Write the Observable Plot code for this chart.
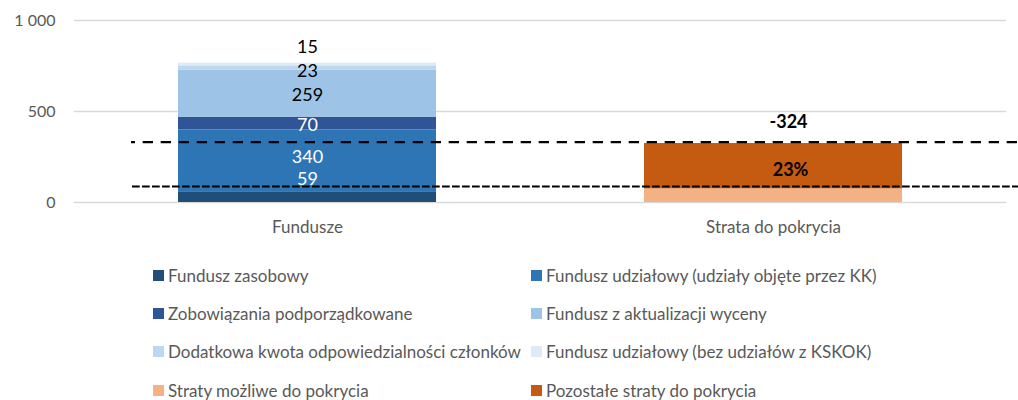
<!DOCTYPE html>
<html>
<head>
<meta charset="utf-8">
<script src="https://cdn.jsdelivr.net/npm/d3@7"></script>
<script src="https://cdn.jsdelivr.net/npm/@observablehq/plot@0.6"></script>
<style>
  body { margin: 0; background: #fff; font-family: Lato, sans-serif; }
  #wrap { position: relative; width: 1018px; height: 400px; }
  #legend { position: absolute; left: 153px; top: 256px; display: grid;
    grid-template-columns: 378px auto; grid-auto-rows: 38.3px; color: #595959; font-size: 17px; }
  .item { display: flex; align-items: center; white-space: nowrap; }
  .sw { width: 11px; height: 11px; margin-right: 4px; flex: none; }
</style>
</head>
<body>
<div id="wrap"><div id="chart"></div><div id="legend"></div></div>
<script>
// ---- data ----
const categories = ["Fundusze", "Strata do pokrycia"];
const fundSeries = [
  "Fundusz zasobowy",
  "Fundusz udziałowy (udziały objęte przez KK)",
  "Zobowiązania podporządkowane",
  "Fundusz z aktualizacji wyceny",
  "Dodatkowa kwota odpowiedzialności członków",
  "Fundusz udziałowy (bez udziałów z KSKOK)"
];
const fundValues = [59, 340, 70, 259, 23, 15];
const lossSeries = ["Straty możliwe do pokrycia", "Pozostałe straty do pokrycia"];
const lossValues = [75, 249];
const lossTotalLabel = "-324";
const coverShareLabel = "23%";
const referenceLevels = [332, 88];
const yTicks = [0, 500, 1000];
const legendOrder = [
  "Fundusz zasobowy", "Fundusz udziałowy (udziały objęte przez KK)",
  "Zobowiązania podporządkowane", "Fundusz z aktualizacji wyceny",
  "Dodatkowa kwota odpowiedzialności członków", "Fundusz udziałowy (bez udziałów z KSKOK)",
  "Straty możliwe do pokrycia", "Pozostałe straty do pokrycia"
];
const seriesColors = {
  "Fundusz zasobowy": "#1f4e79",
  "Fundusz udziałowy (udziały objęte przez KK)": "#2e75b6",
  "Zobowiązania podporządkowane": "#2f5597",
  "Fundusz z aktualizacji wyceny": "#9dc3e6",
  "Dodatkowa kwota odpowiedzialności członków": "#bdd7ee",
  "Fundusz udziałowy (bez udziałów z KSKOK)": "#deebf7",
  "Straty możliwe do pokrycia": "#f4b183",
  "Pozostałe straty do pokrycia": "#c55a11"
};

// ---- build rows ----
const rows = [
  ...fundSeries.map((s, i) => ({category: categories[0], series: s, value: fundValues[i]})),
  ...lossSeries.map((s, i) => ({category: categories[1], series: s, value: lossValues[i]}))
];
const fundCum = d3.cumsum(fundValues);
const fundLabelRows = fundSeries.map((s, i) => ({
  category: categories[0], value: fundValues[i], mid: fundCum[i] - fundValues[i] / 2
}));
// label styling per fund segment
const fundLabelFill = ["white", "white", "white", "black", "black", "black"];
const fundLabelDy = [-17.6, -3.3, 2, 1.9, 3.3, -17.3];

const fmt = d => d3.format(",")(d).replace(/,/g, " ");

const labelMarks = fundLabelRows.map((d, i) =>
  Plot.text([d], {
    x: "category", y: "mid", text: r => String(r.value),
    fill: fundLabelFill[i], dy: fundLabelDy[i], fontSize: 18
  })
);
const lossTotal = d3.sum(lossValues);

const chart = Plot.plot({
  width: 1018,
  height: 240,
  marginLeft: 74,
  marginRight: 12,
  marginTop: 20,
  marginBottom: 38,
  style: {fontFamily: "Lato, sans-serif", fontSize: "16px", color: "#595959", background: "white"},
  x: {domain: categories, paddingInner: 0.446, paddingOuter: 0.223, label: null},
  y: {domain: [0, 1000], label: null},
  color: {domain: Object.keys(seriesColors), range: Object.values(seriesColors)},
  marks: [
    Plot.gridY(yTicks, {stroke: "#d9d9d9", strokeOpacity: 1, strokeWidth: 1.5}),
    Plot.axisY(yTicks, {tickSize: 0, tickPadding: 19, tickFormat: fmt, label: null}),
    Plot.axisX({tickSize: 0, tickPadding: 18, label: null, fontSize: 17}),
    Plot.barY(rows, {x: "category", y: "value", fill: "series"}),
    Plot.ruleY([referenceLevels[0]], {stroke: "black", strokeWidth: 2.2,
      strokeDasharray: "10.3,7.7", strokeDashoffset: 6.3, insetLeft: 57, insetRight: -12}),
    Plot.ruleY([referenceLevels[1]], {stroke: "black", strokeWidth: 2,
      strokeDasharray: "7.7,2.3", insetLeft: 58, insetRight: -12}),
    ...labelMarks,
    Plot.text([lossTotalLabel], {x: () => categories[1], y: () => lossTotal, text: d => d,
      fill: "black", fontWeight: "bold", fontSize: 18, dy: -21, dx: 15}),
    Plot.text([coverShareLabel], {x: () => categories[1], y: () => lossValues[0] + lossValues[1] / 2, text: d => d,
      fill: "black", fontWeight: "bold", fontSize: 18, dy: 4, dx: 17})
  ]
});
document.getElementById("chart").appendChild(chart);

const legend = document.getElementById("legend");
legendOrder.forEach(s => {
  const it = document.createElement("div");
  it.className = "item";
  const sw = document.createElement("span");
  sw.className = "sw";
  sw.style.background = seriesColors[s];
  const t = document.createElement("span");
  t.textContent = s;
  it.appendChild(sw); it.appendChild(t);
  legend.appendChild(it);
});
</script>
</body>
</html>
